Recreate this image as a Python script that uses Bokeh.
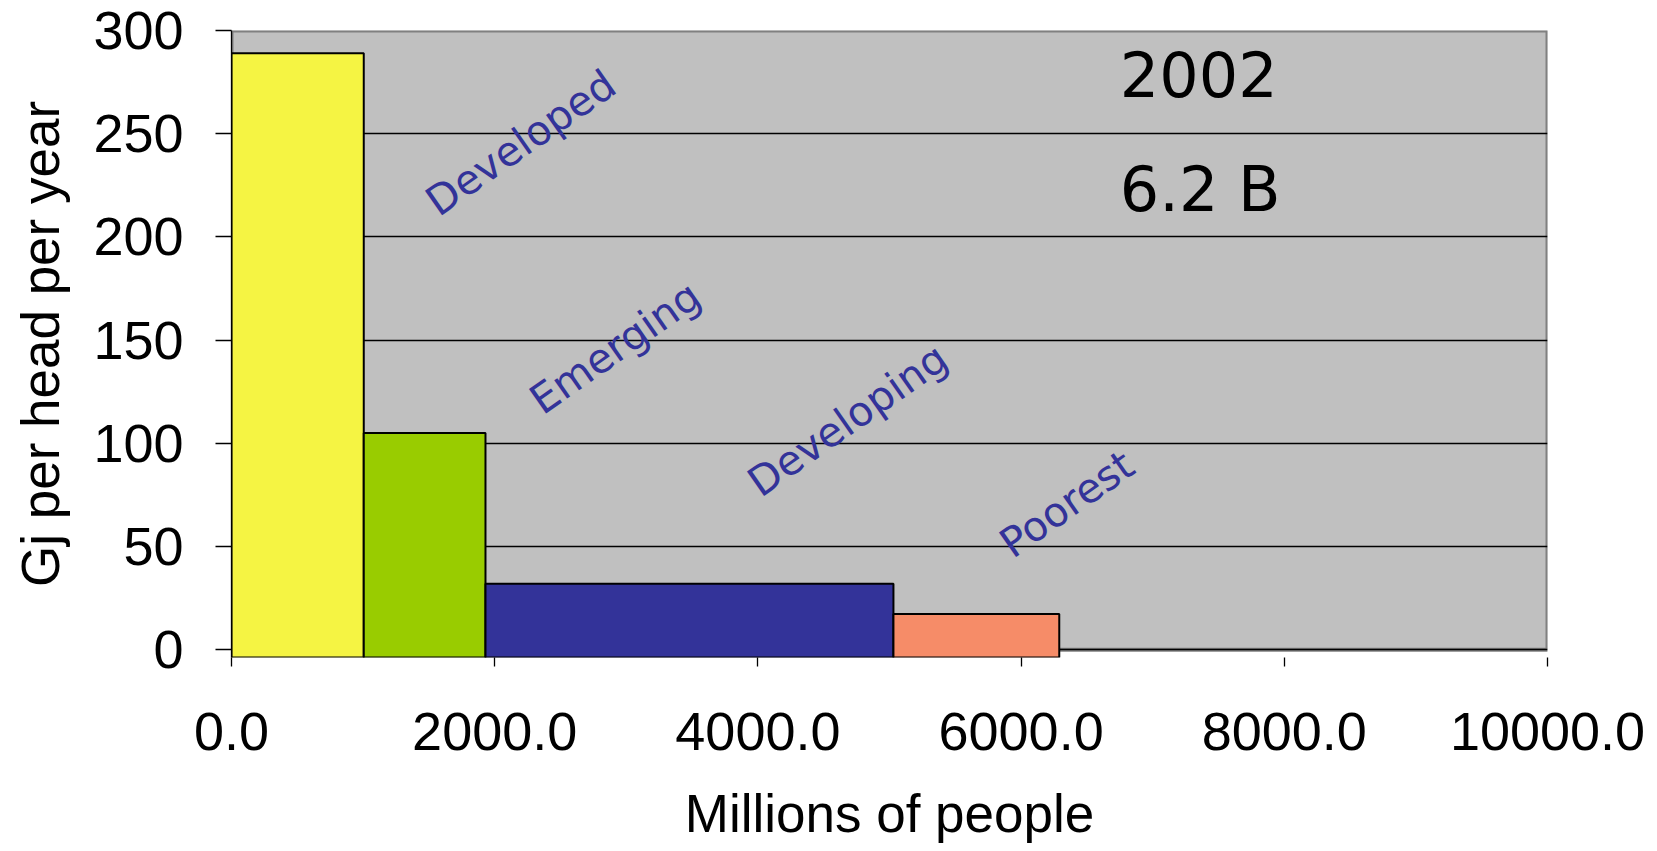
import numpy as np
from bokeh.plotting import figure
from bokeh.models import FixedTicker, NumeralTickFormatter, Label, Range1d, ColumnDataSource
from bokeh.embed import file_html
from bokeh.resources import INLINE
from bokeh.core.properties import value

# ---- data ----
groups = ["Developed", "Emerging", "Developing", "Poorest"]
population_millions = [1005, 925, 3100, 1260]
energy_gj_per_head = [289, 105, 32, 17.4]
bar_colors = ["#F5F443", "#99CC00", "#333399", "#F68C68"]
x_ticks = [0, 2000, 4000, 6000, 8000, 10000]
y_ticks = [0, 50, 100, 150, 200, 250, 300]
year_text = "2002"
total_text = "6.2 B"

# ---- derived ----
right = np.cumsum(population_millions)
left = right - np.array(population_millions)
Y_MIN = -3.7

# label anchors (annotation positions, data units)
label_x = [1514, 2304, 3960, 5875]
label_y = [215, 119, 79, 49.5]

p = figure(width=1657, height=851,
           x_range=Range1d(x_ticks[0], x_ticks[-1]),
           y_range=Range1d(Y_MIN, y_ticks[-1]),
           output_backend="svg", toolbar_location=None,
           min_border_left=231, min_border_right=110,
           min_border_top=30, min_border_bottom=194,
           background_fill_color="white", border_fill_color="white")
p.outline_line_color = None

# gray plot area from 0 to 300
p.quad(left=[x_ticks[0]], right=[x_ticks[-1]], bottom=[y_ticks[0]], top=[y_ticks[-1]],
       fill_color="#C0C0C0", line_color="#808080", line_width=4, level="image")

# grid
p.xgrid.visible = False
p.ygrid.ticker = FixedTicker(ticks=y_ticks[:-1])
p.ygrid.grid_line_color = "black"
p.ygrid.grid_line_width = 1.3

# bars
src = ColumnDataSource(dict(left=left, right=right, top=energy_gj_per_head,
                            bottom=[Y_MIN] * len(groups), color=bar_colors, group=groups))
p.quad(left="left", right="right", bottom="bottom", top="top", source=src,
       fill_color="color", line_color="black", line_width=2)

# group labels
lsrc = ColumnDataSource(dict(x=label_x, y=label_y, text=groups))
p.text(x="x", y="y", text="text", source=lsrc, angle=35, angle_units="deg",
       text_font=value("DejaVu Sans"), text_font_size="41px", text_color="#333399",
       text_align="left", text_baseline="alphabetic")

p.add_layout(Label(x=6750, y=279, text=year_text, text_font="DejaVu Sans",
                   text_font_size="62px", text_color="black", text_baseline="alphabetic"))
p.add_layout(Label(x=6750, y=223, text=total_text, text_font="DejaVu Sans",
                   text_font_size="62px", text_color="black", text_baseline="alphabetic"))

# y axis
ya = p.yaxis[0]
ya.ticker = FixedTicker(ticks=y_ticks)
ya.major_tick_out = 16
ya.major_tick_in = 0
ya.minor_tick_out = 0
ya.minor_tick_in = 0
ya.axis_line_color = "black"
ya.axis_line_width = 1.3
ya.major_tick_line_width = 1.3
ya.major_label_text_font = "Liberation Sans"
ya.major_label_text_font_size = "54px"
ya.major_label_text_color = "black"
ya.major_label_standoff = 32
ya.axis_label = "Gj per head per year"
ya.axis_label_text_font = "Liberation Sans"
ya.axis_label_text_font_size = "53px"
ya.axis_label_text_font_style = "normal"
ya.axis_label_text_color = "black"
ya.axis_label_standoff = 20

# x axis
xa = p.xaxis[0]
xa.ticker = FixedTicker(ticks=x_ticks)
xa.formatter = NumeralTickFormatter(format="0.0")
xa.axis_line_color = None
xa.major_tick_out = 9
xa.major_tick_in = 0
xa.minor_tick_out = 0
xa.minor_tick_in = 0
xa.major_tick_line_width = 1.3
xa.major_label_text_font = "Liberation Sans"
xa.major_label_text_font_size = "54px"
xa.major_label_text_color = "black"
xa.major_label_standoff = 46
xa.axis_label = "Millions of people"
xa.axis_label_text_font = "Liberation Sans"
xa.axis_label_text_font_size = "53px"
xa.axis_label_text_font_style = "normal"
xa.axis_label_text_color = "black"
xa.axis_label_standoff = 31

open("out.html", "w").write(file_html(p, INLINE))
